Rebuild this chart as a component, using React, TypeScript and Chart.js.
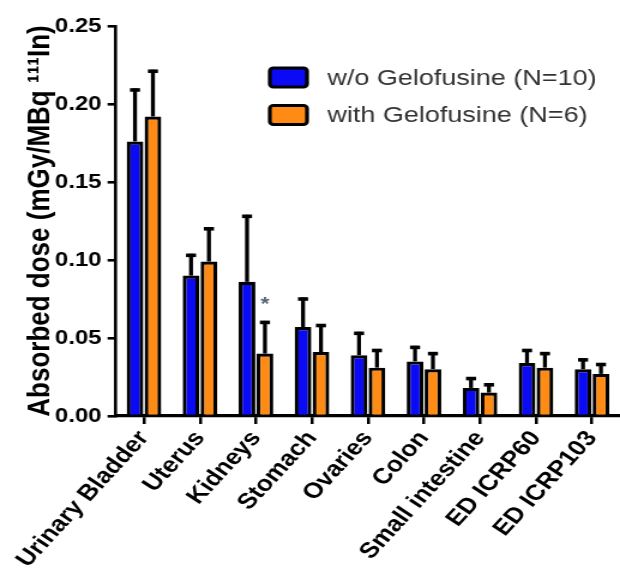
import React, { useEffect, useRef } from "react";
import { Chart, registerables } from "chart.js";

Chart.register(...registerables);

const categories = [
  "Urinary Bladder",
  "Uterus",
  "Kidneys",
  "Stomach",
  "Ovaries",
  "Colon",
  "Small intestine",
  "ED ICRP60",
  "ED ICRP103",
];
const withoutGelo = [0.176, 0.09, 0.086, 0.057, 0.039, 0.035, 0.018, 0.034, 0.03];
const withoutGeloSD = [0.033, 0.013, 0.042, 0.018, 0.014, 0.009, 0.006, 0.008, 0.006];
const withGelo = [0.192, 0.099, 0.04, 0.041, 0.031, 0.03, 0.015, 0.031, 0.027];
const withGeloSD = [0.029, 0.021, 0.02, 0.017, 0.011, 0.01, 0.005, 0.009, 0.006];
const withGeloMarks = ["", "", "*", "", "", "", "", "", ""];
const seriesLabels = ["w/o Gelofusine (N=10)", "with Gelofusine (N=6)"];
const yTickValues = [0, 0.05, 0.1, 0.15, 0.2, 0.25];
const yTitle = "Absorbed dose (mGy/MBq \u00B9\u00B9\u00B9In)";

const STRETCH = 1.2;
const REAL_W = 620;
const REAL_H = 583;
const LOG_W = Math.round(REAL_W / STRETCH);
const FONT = "'Liberation Sans', Arial, sans-serif";

const errorsBySeries = [withoutGeloSD, withGeloSD];
const marksBySeries = [null, withGeloMarks];

const errorBarPlugin = {
  id: "errorBars",
  afterDatasetsDraw(chart: any) {
    const ctx = chart.ctx;
    const y = chart.scales.y;
    chart.data.datasets.forEach((ds: any, di: number) => {
      const meta = chart.getDatasetMeta(di);
      const errs = errorsBySeries[di];
      const marks = marksBySeries[di];
      meta.data.forEach((bar: any, i: number) => {
        const v = ds.data[i];
        const top = y.getPixelForValue(v + errs[i]);
        const cap = 4.2;
        ctx.save();
        ctx.strokeStyle = "#000";
        ctx.lineWidth = 3.3;
        ctx.lineCap = "butt";
        ctx.beginPath();
        ctx.moveTo(bar.x, bar.y);
        ctx.lineTo(bar.x, top - 1.5);
        ctx.stroke();
        ctx.lineWidth = 3.6;
        ctx.beginPath();
        ctx.moveTo(bar.x - cap, top);
        ctx.lineTo(bar.x + cap, top);
        ctx.stroke();
        if (marks && marks[i]) {
          ctx.fillStyle = "#5a6678";
          ctx.font = `bold 19px ${FONT}`;
          ctx.textAlign = "center";
          ctx.textBaseline = "middle";
          ctx.fillText(marks[i], bar.x, top - 18);
        }
        ctx.restore();
      });
    });
  },
};

const legendPlugin = {
  id: "customLegend",
  afterDraw(chart: any) {
    const ctx = chart.ctx;
    const boxX = 225;
    const boxW = 31;
    const boxH = 19;
    const rows = [77.5, 115];
    chart.data.datasets.forEach((ds: any, di: number) => {
      const cy = rows[di];
      ctx.save();
      ctx.fillStyle = ds.backgroundColor;
      ctx.strokeStyle = "#000";
      ctx.lineWidth = 3.2;
      ctx.beginPath();
      (ctx as any).roundRect(boxX, cy - boxH / 2, boxW, boxH, 3);
      ctx.fill();
      ctx.stroke();
      ctx.fillStyle = "#333";
      ctx.font = `22.5px ${FONT}`;
      ctx.textAlign = "left";
      ctx.textBaseline = "middle";
      ctx.fillText(ds.label, 273, cy + 1);
      ctx.restore();
    });
  },
};

export default function App() {
  const ref = useRef<HTMLCanvasElement | null>(null);

  useEffect(() => {
    document.body.style.margin = "0";
    const canvas = ref.current;
    if (!canvas) return;
    const chart = new Chart(canvas, {
      type: "bar",
      data: {
        labels: categories,
        datasets: [
          {
            label: seriesLabels[0],
            data: withoutGelo,
            backgroundColor: "#0a0af5",
            borderColor: "#000",
            borderWidth: 3.2,
            borderSkipped: "bottom",
          },
          {
            label: seriesLabels[1],
            data: withGelo,
            backgroundColor: "#ff8a14",
            borderColor: "#000",
            borderWidth: 3.2,
            borderSkipped: "bottom",
          },
        ],
      },
      options: {
        animation: false,
        responsive: false,
        maintainAspectRatio: false,
        devicePixelRatio: 1,
        layout: { padding: { top: 26, right: 0, left: 0, bottom: 0 } },
        datasets: {
          bar: { categoryPercentage: 0.64, barPercentage: 0.93 },
        },
        plugins: {
          legend: { display: false },
          tooltip: { enabled: false },
        },
        scales: {
          x: {
            offset: true,
            afterFit(scale: any) {
              scale.height = REAL_H - 416;
              scale.paddingRight = 0;
              scale.paddingLeft = 0;
            },
            grid: {
              display: true,
              drawOnChartArea: false,
              drawTicks: true,
              tickLength: 8,
              color: "#000",
              lineWidth: 2.5,
              offset: false,
            },
            border: { display: true, color: "#000", width: 3.2 },
            ticks: {
              color: "#000",
              font: { family: FONT, size: 22, weight: "bold" },
              minRotation: 52,
              maxRotation: 52,
              autoSkip: false,
              padding: 2,
            },
          },
          y: {
            min: 0,
            max: 0.25,
            afterFit(scale: any) {
              scale.width = 96.7;
              scale.paddingTop = 0;
              scale.paddingBottom = 0;
            },
            afterBuildTicks(scale: any) {
              scale.ticks = yTickValues.map((v) => ({ value: v }));
            },
            grid: {
              display: true,
              drawOnChartArea: false,
              drawTicks: true,
              tickLength: 7,
              color: "#000",
              lineWidth: 2.6,
            },
            border: { display: true, color: "#000", width: 2.6 },
            ticks: {
              color: "#000",
              font: { family: FONT, size: 20, weight: "bold" },
              padding: 5,
              callback: (v: any) => Number(v).toFixed(2),
            },
            title: {
              display: true,
              text: yTitle,
              color: "#000",
              font: { family: FONT, size: 26, weight: "bold" },
              padding: { top: 18, bottom: 0 },
            },
          },
        },
      },
      plugins: [errorBarPlugin, legendPlugin],
    });
    return () => chart.destroy();
  }, []);

  return (
    <canvas
      ref={ref}
      width={LOG_W}
      height={REAL_H}
      style={{ width: `${REAL_W}px`, height: `${REAL_H}px`, display: "block" }}
    />
  );
}
